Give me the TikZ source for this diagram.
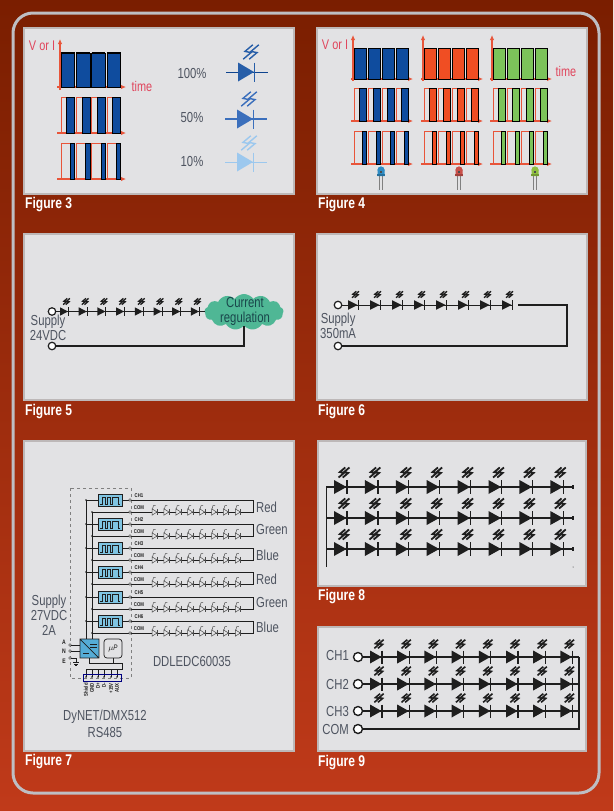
\documentclass[tikz,border=0pt]{standalone}
\usepackage{fontspec}
\setmainfont[FakeStretch=0.78]{Liberation Sans}
\usetikzlibrary{arrows.meta,shapes.symbols,calc}
\definecolor{panelfill}{HTML}{E2E2E4}
\definecolor{panelline}{HTML}{BDB8B8}
\definecolor{wave}{HTML}{E8553A}
\definecolor{labelred}{HTML}{E0455C}
\definecolor{txt}{HTML}{4E5460}
\definecolor{barblue}{HTML}{0F4C9E}
\definecolor{barred}{HTML}{F04E23}
\definecolor{bargreen}{HTML}{7CC35A}
\definecolor{ink}{HTML}{1E1E1E}
\definecolor{pwmblue}{HTML}{7FC4E2}
\definecolor{cloudgreen}{HTML}{4FB795}
\tikzset{
 panel/.style={fill=panelfill,draw=panelline,line width=1.5pt},
 caption/.style={anchor=west,text=white,font=\fontsize{15.5}{15.5}\selectfont\bfseries,inner sep=0pt},
 lab/.style={text=txt,font=\fontsize{14.5}{15}\selectfont,inner sep=0pt,align=center},
 redlab/.style={text=labelred,font=\fontsize{14}{14}\selectfont,inner sep=0pt},
 axisline/.style={wave,line width=1.1pt,-{Latex[length=5pt,width=4.5pt]}},
 pulseline/.style={wave,line width=.7pt},
 term/.style={circle,draw=ink,fill=white,line width=1.2pt,minimum size=7.5pt,inner sep=0pt},
 bigterm/.style={term,line width=1.4pt,minimum size=9pt},
 wire/.style={ink,line width=.9pt},
 heavywire/.style={ink,line width=1.4pt},
 tiny/.style={font=\fontsize{5.5}{6}\selectfont\bfseries,text=ink,inner sep=0pt},
}
% x, y, triangle length, half height, colour, line width
\newcommand{\ledmark}[6]{%
 \fill[#5] (#1,#2-#4) -- (#1+#3,#2) -- (#1,#2+#4) -- cycle;
 \draw[#5,line width=#6pt] (#1+#3+.5,#2-#4) -- (#1+#3+.5,#2+#4);}
% centre x, centre y, size, colour, line width
\newcommand{\zapmark}[5]{%
 \foreach \dd in {-.5,.5}{
 \draw[#4,line width=#5pt,line join=miter] (#1+\dd*#3+.8*#3,#2-1.2*#3) -- (#1+\dd*#3-.5*#3,#2-.1*#3) -- (#1+\dd*#3+.5*#3,#2+.1*#3) -- (#1+\dd*#3-.8*#3,#2+1.2*#3);}}
% first x, y, top, bottom, bar start fraction, colour
\newcommand{\pulserow}[6]{%
 \foreach \k in {0,1,2,3}{
 \pgfmathsetmacro{\xa}{#1+\k*15.3}
 \pgfmathsetmacro{\xb}{\xa+13.7}
 \pgfmathsetmacro{\xc}{\xa+#5*13.7}
 \draw[pulseline] (\xa,#4) -- (\xa,#3) -- (\xb,#3) -- (\xb,#4);
 \fill[#6] (\xc,#3) rectangle (\xb,#4);
 \draw[black,line width=.8pt] (\xc,#3) rectangle (\xb,#4);}}
\begin{document}
\begin{tikzpicture}[x=1pt,y=-1pt]
\useasboundingbox (0,0) rectangle (613,811);
\shade[top color={rgb,255:red,122;green,30;blue,0},bottom color={rgb,255:red,192;green,58;blue,26}] (0,0) rectangle (613,811);
\draw[draw={rgb,255:red,190;green,190;blue,195},line width=3pt,rounded corners=20pt] (13,13) rectangle (599,793);
% panels
\draw[panel] (24,28) rectangle (294,194);
\draw[panel] (317,28) rectangle (587,194);
\draw[panel] (24,234) rectangle (294,400);
\draw[panel] (317,234) rectangle (587,400);
\draw[panel] (24,441) rectangle (294,751);
\draw[panel] (318,441) rectangle (586,586);
\draw[panel] (318,627) rectangle (586,751);
\node[caption] (c3) at (25,205) {Figure 3};
\node[caption] (c4) at (318,205) {Figure 4};
\node[caption] (c5) at (25,412) {Figure 5};
\node[caption] (c6) at (318,412) {Figure 6};
\node[caption] (c7) at (25,762) {Figure 7};
\node[caption] (c8) at (318,597) {Figure 8};
\node[caption] (c9) at (318,763) {Figure 9};
% ---- Figure 3
\node[redlab] (f3v) at (42,46) {V or I};
\node[redlab] (f3t) at (142,86) {time};
\draw[axisline] (60,90) -- (60,39);
\foreach \yy in {87,133,179}{\draw[axisline] (57,\yy) -- (126,\yy);}
\pulserow{61}{0}{53}{87}{0}{barblue}
\draw[black,line width=1.4pt] (61,53) -- (75,53) (76.3,53) -- (90,53) (91.6,53) -- (105,53) (107,53) -- (121,53);
\pulserow{61}{0}{97}{133}{.42}{barblue}
\pulserow{61}{0}{143}{179}{.68}{barblue}
\node[lab] (p100) at (192,74) {100\%};
\node[lab] (p50) at (192,118) {50\%};
\node[lab] (p10) at (192,162) {10\%};
\draw[barblue!90!black,line width=.9pt] (226,72) -- (268,72);
\ledmark{238}{72}{16}{9.5}{barblue!90!white}{1.3}
\zapmark{251}{52}{6}{barblue!90!white}{1.4}
\definecolor{midblue}{HTML}{3B6FBC}
\draw[midblue,line width=1.3pt] (225,119) -- (267,119);
\ledmark{237}{119}{16}{9.5}{midblue}{1.3}
\zapmark{249}{99}{6}{midblue}{1.4}
\definecolor{paleblue}{HTML}{9CC8EE}
\draw[paleblue,line width=.8pt] (225,162) -- (267,162);
\ledmark{237}{162}{16}{9.5}{paleblue}{1.3}
\zapmark{249}{143}{6}{paleblue}{1.4}
% ---- Figure 4
\node[redlab] (f4v) at (335,45) {V or I};
\node[redlab] (f4t) at (566,71) {time};
\foreach \off/\col in {0/barblue,70/barred,139/bargreen}{
 \draw[axisline] (353+\off,81) -- (353+\off,35);
 \foreach \yy in {79,121,164}{\draw[axisline] (351+\off,\yy) -- (413+\off,\yy);}
 \pgfmathsetmacro{\xs}{354+\off}
 \foreach \k in {0,1,2,3}{
  \pgfmathsetmacro{\xa}{\xs+\k*14}
  \pgfmathsetmacro{\xb}{\xa+12.7}
  \pgfmathsetmacro{\xm}{\xa+.4*12.7}
  \pgfmathsetmacro{\xn}{\xa+.66*12.7}
  \fill[\col] (\xa,48) rectangle (\xb,79);
  \draw[black,line width=.7pt] (\xa,48) rectangle (\xb,79);
  \draw[pulseline] (\xa,121) -- (\xa,88) -- (\xb,88) -- (\xb,121);
  \fill[\col] (\xm,88) rectangle (\xb,121);
  \draw[black,line width=.7pt] (\xm,88) rectangle (\xb,121);
  \draw[pulseline] (\xa,164) -- (\xa,131) -- (\xb,131) -- (\xb,164);
  \fill[\col] (\xn,131) rectangle (\xb,164);
  \draw[black,line width=.7pt] (\xn,131) rectangle (\xb,164);
 }
}
\definecolor{lamb}{HTML}{2E8CC4}
\definecolor{lamr}{HTML}{C9504A}
\definecolor{lamg}{HTML}{8FBF3F}
\foreach \lx/\lc in {381/lamb,459/lamr,535/lamg}{
 \draw[gray,line width=1pt] (\lx-1.8,176) -- (\lx-1.8,190) (\lx+1.8,176) -- (\lx+1.8,190);
 \fill[\lc] (\lx-3.5,176) -- (\lx-3.5,170) arc[start angle=180,end angle=360,radius=3.5] -- (\lx+3.5,176) -- cycle;
 \fill[\lc] (\lx,170) circle (3.5);
 \fill[\lc!80!black] (\lx-4,173.5) rectangle (\lx+4,176);
 \fill[black!70] (\lx-1.5,170.5) rectangle (\lx+1.3,172.8);
}
% ---- Figure 5
\node[cloud,cloud puffs=13,cloud puff arc=110,aspect=2.1,fill=cloudgreen,minimum width=79pt,minimum height=36pt,inner sep=0pt] (f5c) at (244,312) {};
\node[term] (f5a) at (52,311.5) {};
\node[term] (f5b) at (52,346) {};
\draw[wire] (f5a) -- (205,311.5);
\draw[heavywire,line width=1.1pt] (f5b) -| (f5c.south);
\foreach \k in {0,...,7}{
 \ledmark{60+\k*18.7}{311.5}{8}{4.2}{ink}{1}
 \zapmark{66.5+\k*18.7}{301.5}{2.6}{ink}{1.3}
}
\node[lab,text={rgb,255:red,25;green,70;blue,75},align=center] (f5l) at (245,311) {Current\\regulation};
\node[lab,align=center] (f5s) at (48,328) {Supply\\24VDC};
% ---- Figure 6
\node[term] (f6a) at (338,305) {};
\node[term] (f6b) at (338,346) {};
\coordinate (f6e) at (518,305);
\draw[wire] (f6a) -- (512,305);
\draw[heavywire] (f6e) -- (567,305) -- (567,346) -- (f6b);
\foreach \k in {0,...,7}{
 \ledmark{348+\k*22}{305}{9.5}{4.8}{ink}{1}
 \zapmark{355.5+\k*22}{294.5}{2.7}{ink}{1.3}
}
\node[lab,align=center,anchor=west] (f6s) at (320,326) {Supply\\350mA};
% ---- Figure 7
\draw[gray,line width=.4pt,dashed] (70,488) rectangle (131,678);
\draw[ink,line width=.7pt] (86,500) -- (86,639) (92,512) -- (92,639);
\foreach \k/\cn/\yc/\ym/\ly/\nm in {1/CH1/500/512/507/Red,2/CH2/524/536/530/Green,3/CH3/548/560/555/Blue,4/CH4/572/584/579/Red,5/CH5/597/609/603/Green,6/CH6/621/633/627/Blue}{
 \draw[ink,line width=.7pt] (86,\yc) -- (253,\yc) -- (253,\ym) -- (92,\ym);
 \fill[ink] (86,\yc) circle (.9) (92,\ym) circle (.9);
 \fill[pwmblue] (98,\yc-5.5) rectangle (122,\yc+6);
 \draw[ink,line width=.7pt] (98,\yc-5.5) rectangle (122,\yc+6);
 \draw[ink,line width=.6pt] (100,\yc+4) -- (102,\yc+4) -- (102,\yc-3) -- (105,\yc-3) -- (105,\yc+4) -- (107,\yc+4) -- (107,\yc-3) -- (110,\yc-3) -- (110,\yc+4) -- (112,\yc+4) -- (112,\yc-3) -- (118,\yc-3) -- (118,\yc+4) -- (120,\yc+4);
 \filldraw[fill=white,draw=ink,line width=.4pt] (130,\yc) circle (1.4) (130,\ym) circle (1.4);
 \node[tiny] at (139,\yc-4) {\cn};
 \node[tiny] at (139,\ym-4) {COM};
 \foreach \j in {0,...,7}{
  \pgfmathsetmacro{\dx}{152+\j*11.9}
  \filldraw[fill=panelfill,draw=gray!60!black,line width=.5pt] (\dx,\ym-3.2) -- (\dx+5,\ym) -- (\dx,\ym+3.2) -- cycle;
  \draw[gray!60!black,line width=.6pt] (\dx+5.3,\ym-3.2) -- (\dx+5.3,\ym+3.2);
  \draw[gray!60!black,line width=.5pt] (\dx+.5,\ym-3) -- (\dx+1.5,\ym-6.5) -- (\dx+3.5,\ym-6.5);
 }
 \node[lab,anchor=west] at (256,\ly) {\nm};
}
\definecolor{convblue}{HTML}{55ACD6}
\fill[convblue] (80,639) rectangle (99,658);
\draw[ink,line width=.7pt] (80,639) rectangle (99,658) (80,639) -- (99,658);
\draw[ink,line width=.6pt] (90,644) -- (97,644) (90,647) -- (97,647) (83,653) -- (89,653);
\draw[ink,line width=.7pt,rounded corners=3pt,fill=panelfill] (104,639) rectangle (122,658);
\node[font=\fontsize{8}{8}\selectfont\itshape,text=ink,inner sep=0pt] (up) at (113,648.5) {$\mu$P};
\foreach \yy/\tt/\ty in {645/A/642,651/N/651,658/E/661}{
 \filldraw[fill=white,draw=ink,line width=.4pt] (70,\yy) circle (1.3);
 \node[font=\fontsize{6.5}{6.5}\selectfont\bfseries,text=ink,inner sep=0pt] at (64,\ty) {\tt};
}
\draw[ink,line width=.6pt] (71,645) -- (80,645) (71,651) -- (80,651) (71,658) -- (76,658) -- (76,662);
\draw[ink,line width=.7pt] (73,662.5) -- (79,662.5) (74,664) -- (78,664) (75.3,665.5) -- (76.7,665.5);
\draw[ink,line width=.7pt] (89,658) -- (89,663) -- (122,663) -- (122,669) -- (87,669);
\draw[ink,line width=.6pt] (113,658) -- (113,663);
\foreach \xx in {86,92,98,104,111,117}{\draw[ink,line width=.6pt] (\xx,669) -- (\xx,677); \fill[ink] (\xx,677) circle (.8);}
\draw[blue!50!black,line width=.6pt] (83,674) rectangle (121,681);
\foreach \xx/\tt in {86/Shield,92/GND,98/D+,104/D-,111/+15V,117/AUX}{
 \node[tiny,rotate=90,anchor=east] at (\xx,683) {\tt};
}
\node[lab] (sup7) at (49,615) {Supply\\27VDC\\2A};
\node[lab] (dd) at (192,661) {DDLEDC60035};
\node[lab] (dy) at (105,724) {DyNET/DMX512\\[2pt]RS485};
% ---- Figure 8
\draw[ink,line width=.9pt] (326,487) -- (326,567);
\fill[ink] (573,567) circle (.5);
\foreach \yy in {487,518,549}{
 \draw[ink,line width=1.3pt] (326,\yy) -- (573,\yy);
 \draw[ink,line width=1.3pt] (573,\yy-2) -- (573,\yy+2);
 \foreach \k in {0,...,7}{
  \ledmark{334+\k*30.9}{\yy}{12.5}{7}{ink}{1.2}
  \zapmark{344+\k*30.9}{\yy-14.5}{4.2}{ink}{1.8}
 }
}
% ---- Figure 9
\node[bigterm] (ch1) at (358,657) {};
\node[bigterm] (ch2) at (358,684) {};
\node[bigterm] (ch3) at (358,711) {};
\node[bigterm] (com) at (358,729) {};
\foreach \yy/\nn in {657/ch1,684/ch2,711/ch3}{
 \draw[ink,line width=1.1pt] (\nn) -- (579,\yy);
 \foreach \k in {0,...,7}{
  \ledmark{370+\k*27.2}{\yy}{11.5}{6.5}{ink}{1.2}
  \zapmark{379+\k*27.2}{\yy-13}{3.6}{ink}{1.6}
 }
}
\draw[ink,line width=1.1pt] (579,657) -- (579,729) -- (com);
\node[lab,anchor=east] (l1) at (349,656) {CH1};
\node[lab,anchor=east] (l2) at (349,684) {CH2};
\node[lab,anchor=east] (l3) at (349,711) {CH3};
\node[lab,anchor=east] (l4) at (349,729) {COM};
\end{tikzpicture}
\end{document}
